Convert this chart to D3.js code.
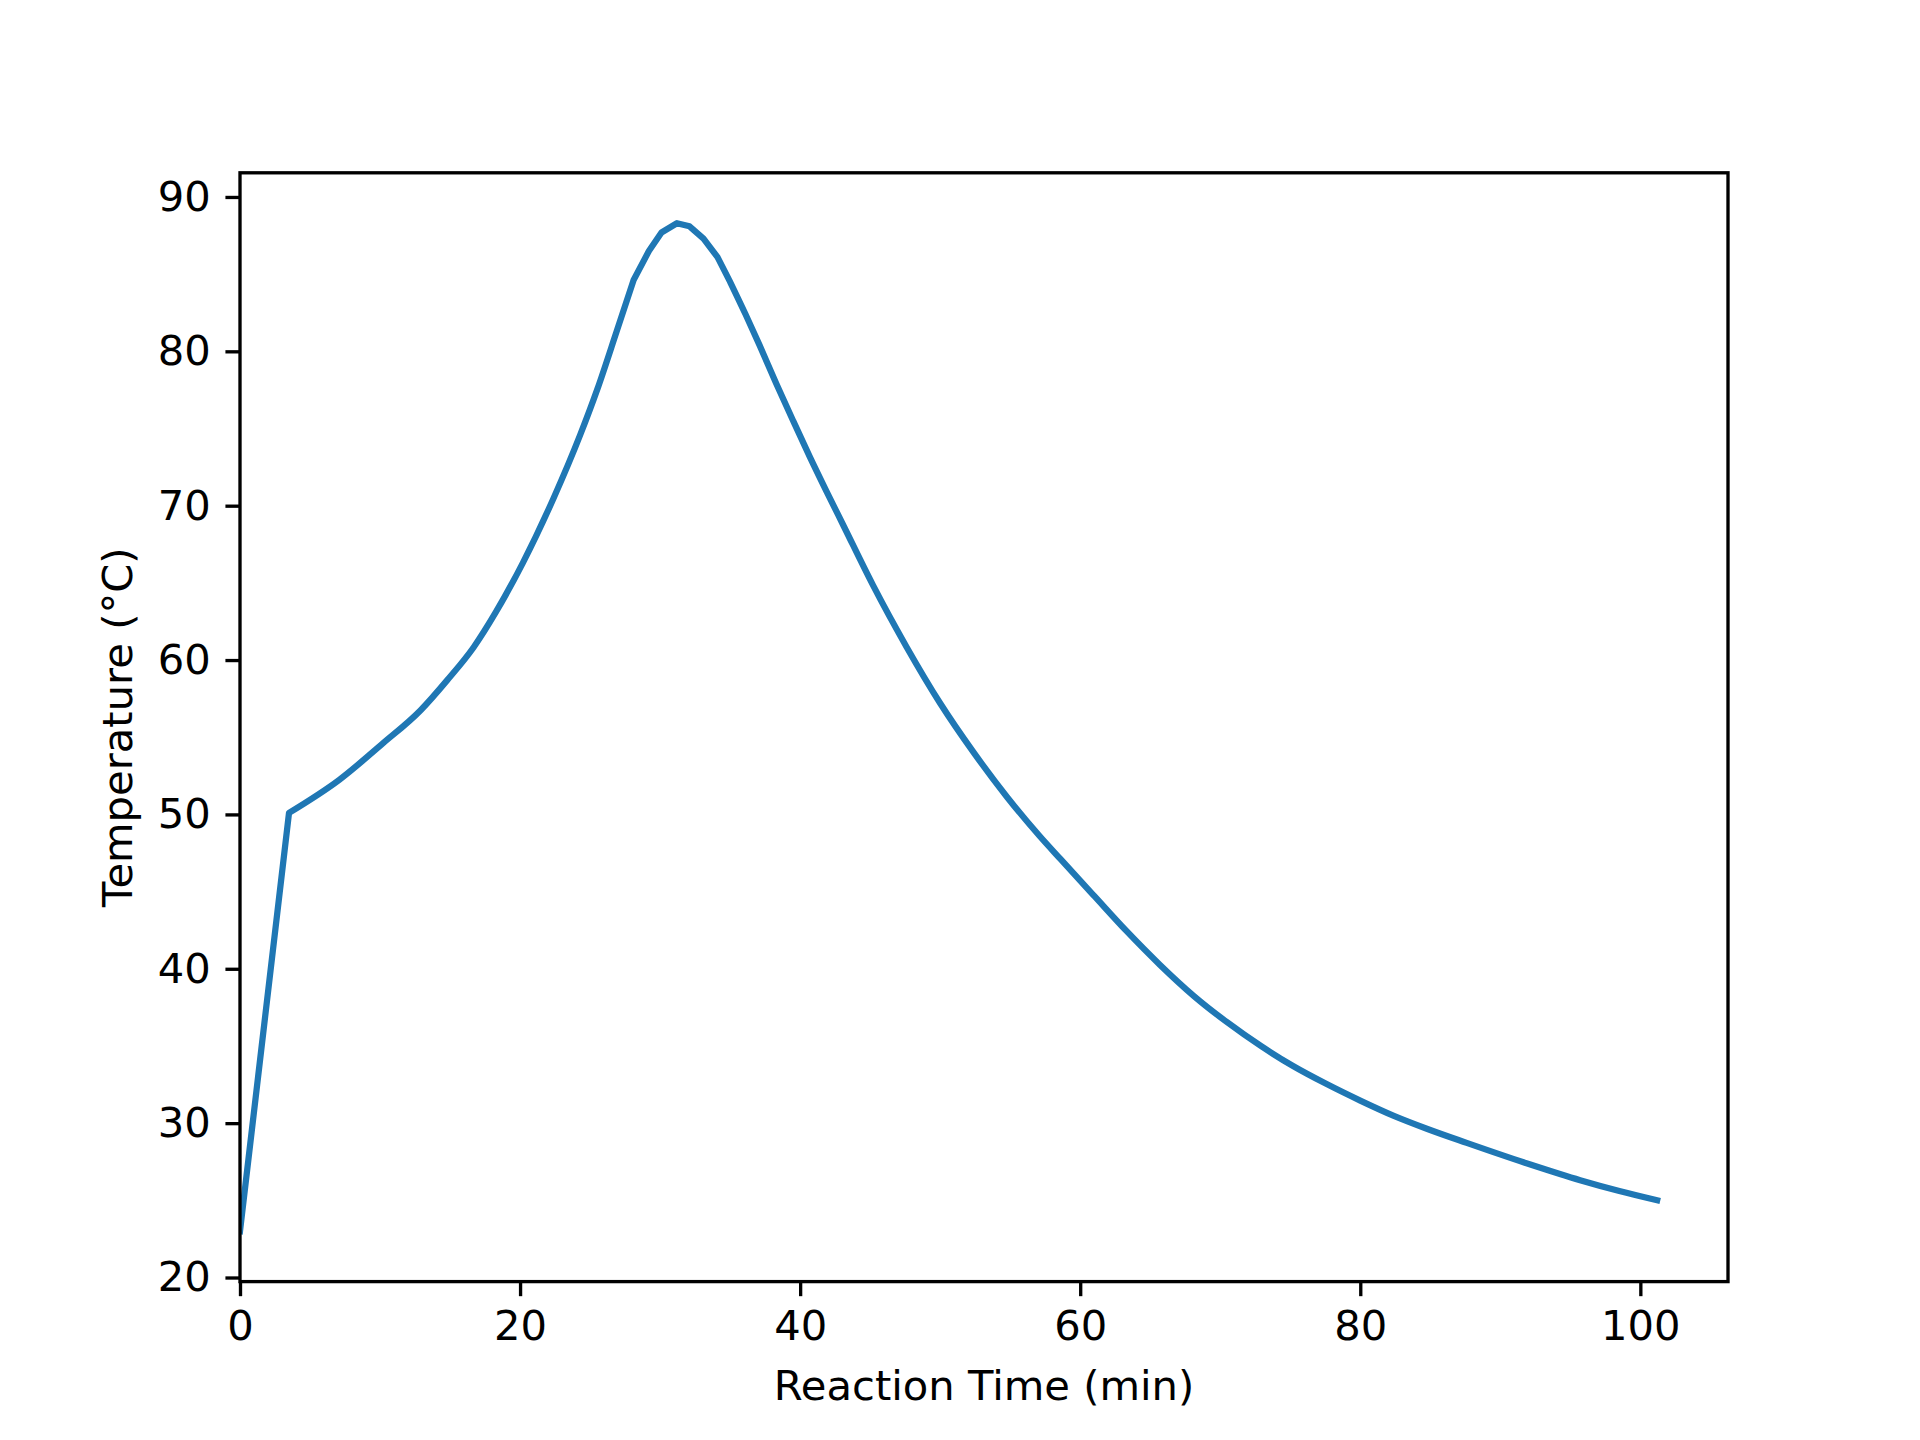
<!DOCTYPE html>
<html>
<head>
<meta charset="utf-8">
<script src="https://cdn.jsdelivr.net/npm/d3@7"></script>
<style>
  html, body { margin: 0; padding: 0; background: #fff; }
  svg { display: block; }
  text { font-family: "DejaVu Sans", sans-serif; }
</style>
</head>
<body>
<svg id="chart" width="1920" height="1440"></svg>
<script>
// Reaction time (min)
const times = [0, 3.5, 7.1, 10.2, 12.9, 14.8, 16.7, 18.3, 20.2, 22.4, 24.3, 25.5, 26.9, 28.1,
  29.2, 30.1, 31.2, 32.1, 33.1, 34.1, 35.0, 36.1, 37.1, 38.3, 39.5, 40.7, 41.9, 43.1,
  45.2, 47.6, 50.0, 52.4, 54.8, 57.1, 58.6, 61.0, 63.3, 65.7, 68.1, 70.5, 72.9, 75.2,
  77.6, 80.0, 82.4, 84.8, 87.6, 92.2, 95.7, 98.5, 101.2];
// Temperature (°C)
const temps = [23.0, 50.1, 52.25, 54.6, 56.75, 58.7, 60.85, 63.15, 66.3, 70.5, 74.6, 77.5, 81.3, 84.6,
  86.5, 87.7, 88.3, 88.1, 87.3, 86.1, 84.5, 82.4, 80.4, 77.9, 75.5, 73.15, 70.9, 68.7,
  64.85, 60.85, 57.2, 54.0, 51.1, 48.6, 47.1, 44.72, 42.45, 40.25, 38.25, 36.53, 35.0, 33.7,
  32.53, 31.46, 30.47, 29.62, 28.72, 27.3, 26.3, 25.6, 25.0];
const xTicks = [0, 20, 40, 60, 80, 100];
const yTicks = [20, 30, 40, 50, 60, 70, 80, 90];
const xLabel = "Reaction Time (min)";
const yLabel = "Temperature (°C)";

(function () {
  const data = times.map((t, i) => ({ t, v: temps[i] }));

  const pL = 240, pR = 1728, pT = 172.8, pB = 1281.6;
  const fs = 41.67;
  const tickLen = 14.58, tickPad = 14.6, lw = 3.33;

  const svg = d3.select("#chart");

  const tMax = d3.max(times);
  const x = d3.scaleLinear().domain([0, tMax * 1.05]).range([pL, pR]);
  const [vMin, vMax] = d3.extent(temps);
  const R = vMax - vMin;
  const y = d3.scaleLinear().domain([vMin - 0.05 * R, vMax + 0.05 * R]).range([pB, pT]);

  svg.append("defs").append("clipPath").attr("id", "clip")
    .append("rect").attr("x", pL).attr("y", pT)
    .attr("width", pR - pL).attr("height", pB - pT);

  // Pieces: straight ramp, smooth rise, polyline around the peak, smooth cooling
  const i35 = times.indexOf(3.5), iA = times.indexOf(28.1), iB = times.indexOf(35.0);
  const lin = d3.line().x(d => x(d.t)).y(d => y(d.v));
  const mono = d3.line().curve(d3.curveMonotoneX).x(d => x(d.t)).y(d => y(d.v));
  const pieces = [
    lin(data.slice(0, i35 + 1)),
    mono(data.slice(i35, iA + 1)),
    lin(data.slice(iA, iB + 1)),
    mono(data.slice(iB))
  ];
  const pathD = pieces.map((p, k) => k === 0 ? p : "L" + p.slice(1)).join("");

  svg.append("path")
    .attr("clip-path", "url(#clip)")
    .attr("fill", "none")
    .attr("stroke", "#1f77b4")
    .attr("stroke-width", 6.25)
    .attr("stroke-linejoin", "round")
    .attr("stroke-linecap", "square")
    .attr("d", pathD);

  const xAxis = svg.append("g")
    .attr("transform", `translate(0,${pB})`)
    .call(d3.axisBottom(x).tickValues(xTicks).tickFormat(d3.format("d"))
      .tickSize(tickLen).tickSizeOuter(0).tickPadding(tickPad));
  const yAxis = svg.append("g")
    .attr("transform", `translate(${pL},0)`)
    .call(d3.axisLeft(y).tickValues(yTicks).tickFormat(d3.format("d"))
      .tickSize(tickLen).tickSizeOuter(0).tickPadding(tickPad));

  [xAxis, yAxis].forEach(g => {
    g.select(".domain").remove();
    g.selectAll(".tick line").attr("stroke", "#000").attr("stroke-width", lw);
    g.selectAll(".tick text").attr("fill", "#000")
      .style("font-family", '"DejaVu Sans", sans-serif')
      .style("font-size", fs + "px");
  });

  svg.append("rect")
    .attr("x", pL).attr("y", pT)
    .attr("width", pR - pL).attr("height", pB - pT)
    .attr("fill", "none").attr("stroke", "#000").attr("stroke-width", lw)
    .attr("stroke-linejoin", "miter");

  svg.append("text")
    .attr("x", (pL + pR) / 2).attr("y", 1400)
    .attr("text-anchor", "middle")
    .style("font-size", fs + "px").attr("fill", "#000")
    .text(xLabel);

  svg.append("text")
    .attr("transform", `translate(131.7,${(pT + pB) / 2}) rotate(-90)`)
    .attr("text-anchor", "middle")
    .style("font-size", fs + "px").attr("fill", "#000")
    .text(yLabel);
})();
</script>
</body>
</html>
